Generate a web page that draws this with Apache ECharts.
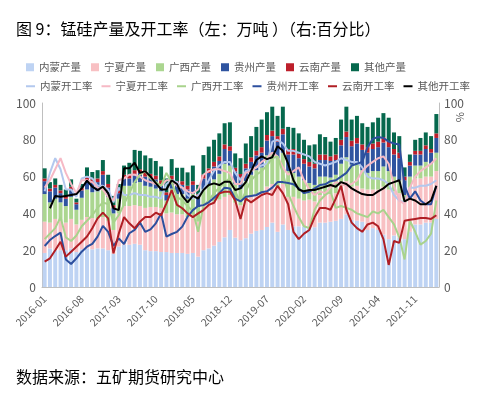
<!DOCTYPE html>
<html><head><meta charset="utf-8">
<script src="https://cdn.jsdelivr.net/npm/echarts@6/dist/echarts.min.js"></script>
<style>html,body{margin:0;padding:0;background:#fff}#c{width:485px;height:393px}</style>
</head><body><div id="c"></div>
<script>
var months = ['2016-01','2016-02','2016-03','2016-04','2016-05','2016-06','2016-07','2016-08','2016-09','2016-10','2016-11','2016-12',
'2017-01','2017-02','2017-03','2017-04','2017-05','2017-06','2017-07','2017-08','2017-09','2017-10','2017-11','2017-12',
'2018-01','2018-02','2018-03','2018-04','2018-05','2018-06','2018-07','2018-08','2018-09','2018-10','2018-11','2018-12',
'2019-01','2019-02','2019-03','2019-04','2019-05','2019-06','2019-07','2019-08','2019-09','2019-10','2019-11','2019-12',
'2020-01','2020-02','2020-03','2020-04','2020-05','2020-06','2020-07','2020-08','2020-09','2020-10','2020-11','2020-12',
'2021-01','2021-02','2021-03','2021-04','2021-05','2021-06','2021-07','2021-08','2021-09','2021-10','2021-11','2021-12',
'2022-01','2022-02','2022-03'];

// production (万吨)
var nmProd = [18.5,21,20,20,20,21,19,20.5,21,20.5, 21,21,20,18,22,23,23,23.5,23,20, 19.5,19.5,19,19,18.5,18.5,18.5,18,18.5,16.5,
  20,21,22.5,24.5,27,31,26.8,25.4,26.5,29, 30.5,31,32.6,35,30,34,31,33,33,33, 32.5,32.5,35,35,35.5,36,37,39.5,36.5,36,
  35.5,31,32,31,28.5,26,28,27,26,30, 34,34,35,35,37];
var nxProd = [17,14,17,16,15,16,15,16,17,17, 16,17,16,13,18,21,21,21,21,23, 24,24,24,21,22,21,21,20,21,19,
  24,25,24,23,22,19,19,19,20,20, 20,20,22,21,24,22,18,16,15,14, 15,14,15,15,15,15,18,18,18,19,
  18,22,21,22,26,27,24,24,20,24, 25,25,25,25,26];
var gxProd = [15,11,11,10,9,12,8,12,15,14, 15,17,13,9,8,11,11,12,13,12, 11,10,9,7,13,11,11,10,11,8,
  9,10,12,14,18,16,10,9,11,12, 13,14,17,17,16,17,14,13,12,11, 9,9,10,10,9,10,12,13,12,12,
  10,9,10,10,11,10,8,7,4,6, 7,7,8,7,10];
var gzProd = [7,6,6,5,4,4,3,4,5,5, 5,6,5,3,3,4,4,5,5,5, 5,5,4,3,5,5,5,5,5,5,
  6,6,7,7,8,8,7,6,7,7, 8,8,8,9,9,10,9,10,10,9, 9,9,9,9,9,8,10,11,10,11,
  11,11,12,13,13,13,12,12,8,6, 6,6,7,6,8];
var ynProd = [1.5,1.5,1.5,1.5,1.5,1.5,1,1.5,2,2, 2,2,2,1.5,1.5,2,2,2,2,2, 2,2,2,1.5,2,2,2,2,2,2,
  2,2.5,2.5,2.5,2.5,2.5,2,2,2.5,2.5, 2.5,3,3,3,3,3,3,3,2.5,2.5, 2.5,2.5,3,3,2.5,3,3,3,3,3,
  3,3,3,3,3,3,3,3,2,2, 2,2,2,2,2.5];
var qtProd = [5.5,3.5,3.5,3,3.5,4,2,2,5,4, 4.5,6,5,5,3.5,5,6.5,11,10,9.5, 8.5,8,7.5,7.5,9,7.3,7.3,7.3,8.5,5,
  10.7,11.8,12,12.5,11.5,13,7.8,8.6,11,11.5, 13,15,12.4,13,11,12,12,11.5,11,10.5, 9,10.5,11,9.5,8,9,11,13.5,11.5,12,
  11.5,11,11.5,13,13,13,9,9,5,4, 6,7,7,7,10.5];

// operating rates (%)
var nmRate = [52,62,70,64,53,53,49,59,60,59, 55,55,53,46,54,50,50,51,50,50, 49,49,48,56,58,57,54,50,48,50,
  53,58,63,66,68,68,62,58,63,64, 65,66,67,79,80,78,74,74,73,72, 71,68,67,66,67,68,70,69,68,68,
  65,60,59,59,58,56,50,47,46,54, 54,55,55,56,58];
var nxRate = [54,58,64,70,62,56,51,58,58,57, 54,53,49,47,58,59,61,61,60,58, 57,56,55,58,58,55,54,52,51,53,
  61,63,64,64,63,62,56,56,62,63, 65,68,70,73,71,65,61,63,65,58, 53,50,52,51,54,57,56,55,56,58,
  63,66,68,70,71,67,55,47,45,54, 60,63,65,67,70];
var gxRate = [26,29,32,38,27,25,28,33,36,39, 43,46,45,35,39,45,51,57,61,63, 59,57,55,62,57,49,47,44,41,30,
  44,47,51,54,57,59,52,46,52,58, 61,63,66,70,71,62,51,44,38,33, 32,42,47,50,52,43,44,43,42,40,
  39,38,41,40,42,38,34,27,15,36, 30,23,25,29,47];
var gzRate = [22.3,25.5,27.7,29.5,15,12.5,15.6,19.2,21.9,23.4, 27.4,33.2,30,22.3,26.4,23.4,29.2,31,35,30,
  31.3,34.6,40,27.4,28.8,30,32.8,38.2,41.8,44, 44.5,46,48.5,51,54,53.5,48,46.5,49,49.5,
  50,51.5,52,54,57,57,56.5,55.8,53.6,51, 51.8,53.6,55.4,55.8,57.5,58,60,62,66,67,
  68,76,80.5,81.5,81,79,78,77.5,55,48, 52,47,45,45,55];
var ynRate = [13.8,15.6,20,24.6,16.5,19.2,21.9,24.6,27.4,31.9, 37.3,40.4,37.3,18.3,29,38,34.6,31.9,35.5,38,
  38,40.4,39,45.5,52.7,44.6,42.8,40,38,40, 41.8,44.6,45.8,50.9,51.8,51.8,47,37,48,46,
  48,50,51,50,55,51,45,30,26,29, 31,38,43,43,42,48,55,42,35,32,
  30,34,35,33,26,12,25,24,36,36.5, 37,37.5,37.5,37,39];
var qtRate = [null,42.8,49.5,49,49.5,50,50.5,53.6,57.8,54.5, 52.7,54.5,51,42.8,41.8,64.5,64.5,67.5,62,63,
  60,56.5,53,53,58,56,49.5,46,49.5,48, 52.7,55.4,56.3,55.4,57.2,57.2,52.7,53.6,57,63,
  69,71,69.5,70.5,76.5,74,67,58,53,52, 52.7,52.7,53.6,54.5,55.4,54.5,57,56,53.6,52,
  50.5,50,50,52,53.6,56,57,58,46.5,48, 47,45,45,47,55];

var barNames = ['内蒙产量','宁夏产量','广西产量','贵州产量','云南产量','其他产量'];
var lineNames = ['内蒙开工率','宁夏开工率','广西开工率','贵州开工率','云南开工率','其他开工率'];
var barData = [nmProd, nxProd, gxProd, gzProd, ynProd, qtProd];
var lineData = [nmRate, nxRate, gxRate, gzRate, ynRate, qtRate];
var barColors = ['#bed3f3','#f8c0c3','#abd690','#2f54a0','#bd1f2b','#06684d'];
var lineColors = ['#b3c8ee','#f6b9c5','#a8d38c','#2c4f9e','#b01e24','#000000'];
var yTicks = [0,20,40,60,80,100];

var FONT = '"Noto Sans CJK SC","Noto Sans",sans-serif';
var series = [];
barNames.forEach(function(n, k){
  series.push({name:n, type:'bar', stack:'prod', yAxisIndex:0, data:barData[k],
    barCategoryGap:'25%', itemStyle:{color:barColors[k]}});
});
lineNames.forEach(function(n, k){
  series.push({name:n, type:'line', yAxisIndex:1, data:lineData[k], symbol:'none',
    lineStyle:{color:lineColors[k], width:2}, itemStyle:{color:lineColors[k]}});
});

var chart = echarts.init(document.getElementById('c'), null, {renderer:'canvas'});
chart.setOption({
  animation:false,
  textStyle:{fontFamily:FONT},
  title:[
    {text:'图 9：锰硅产量及开工率（左：万吨 ）（右:百分比）', left:11, top:16,
     textStyle:{fontSize:16, fontWeight:'normal', color:'#000', fontFamily:FONT}},
    {text:'数据来源：五矿期货研究中心', left:11, top:364,
     textStyle:{fontSize:16, fontWeight:'normal', color:'#000', fontFamily:FONT}}
  ],
  legend:[
    {data:barNames, left:21, top:57, icon:'rect', itemWidth:8, itemHeight:8, itemGap:10,
     textStyle:{fontSize:10.5, color:'#595959', fontFamily:FONT}},
    {data:lineNames, left:21, top:76, icon:'rect', itemWidth:9, itemHeight:2, itemGap:9,
     textStyle:{fontSize:10.5, color:'#595959', fontFamily:FONT}}
  ],
  grid:{left:42, right:46, top:103, bottom:106},
  xAxis:{type:'category', data:months, boundaryGap:true,
    axisLine:{lineStyle:{color:'#bfbfbf'}}, axisTick:{show:false},
    axisLabel:{interval:6, rotate:45, fontSize:10.5, color:'#595959', margin:10, fontFamily:FONT}},
  yAxis:[
    {type:'value', min:yTicks[0], max:yTicks[yTicks.length-1], interval:20,
     axisLine:{show:true, lineStyle:{color:'#bfbfbf'}}, axisTick:{show:false}, splitLine:{show:false},
     axisLabel:{fontSize:12, color:'#595959', margin:6, fontFamily:FONT}},
    {type:'value', min:yTicks[0], max:yTicks[yTicks.length-1], interval:20, position:'right',
     axisLine:{show:true, lineStyle:{color:'#bfbfbf'}}, axisTick:{show:false}, splitLine:{show:false},
     axisLabel:{fontSize:12, color:'#595959', margin:5, fontFamily:FONT}}
  ],
  graphic:[{type:'text', x:466, y:112, rotation:-Math.PI/2,
    style:{text:'%', fontSize:11, fill:'#595959', fontFamily:FONT}}],
  series:series
});
</script></body></html>
